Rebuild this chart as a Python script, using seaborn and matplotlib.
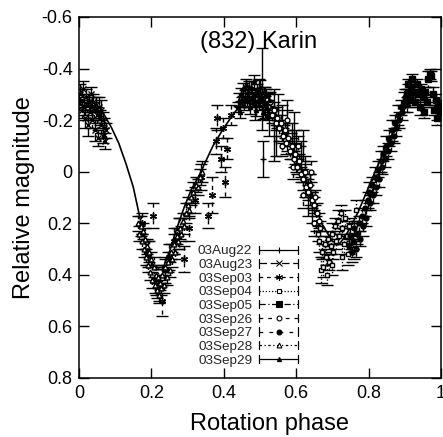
# (832) Karin composite lightcurve - plot script
import matplotlib
matplotlib.use("Agg")
import matplotlib.pyplot as plt
import seaborn as sns
from matplotlib.lines import Line2D
from matplotlib.legend_handler import HandlerBase

# Datos (fase, magnitud relativa, error)
aug22_phase = [0.470, 0.485, 0.498, 0.505, 0.508, 0.515, 0.525, 0.538, 0.545, 0.550,
               0.562, 0.575, 0.588, 0.595, 0.600, 0.612, 0.620, 0.625, 0.632, 0.638,
               0.645]
aug22_mag = [-0.30, -0.26, -0.31, -0.32, -0.05, -0.27, -0.22, -0.18, -0.12, -0.24,
             -0.19, -0.18, -0.12, -0.15, -0.08, -0.05, -0.10, 0.02, 0.10, 0.07,
             0.14]
aug22_err = [0.05, 0.06, 0.05, 0.16, 0.07, 0.06, 0.08, 0.14, 0.06, 0.06,
             0.07, 0.10, 0.07, 0.08, 0.08, 0.07, 0.06, 0.08, 0.07, 0.06,
             0.06]

aug23_phase = [0.001, 0.004, 0.007, 0.009, 0.012, 0.014, 0.017, 0.019, 0.022, 0.025,
               0.027, 0.030, 0.032, 0.035, 0.037, 0.040, 0.042, 0.045, 0.047, 0.050,
               0.052, 0.055, 0.057, 0.060, 0.062, 0.065, 0.067, 0.070, 0.072, 0.075]
aug23_mag = [-0.27, -0.30, -0.24, -0.28, -0.32, -0.25, -0.21, -0.29, -0.26, -0.18,
             -0.27, -0.23, -0.30, -0.25, -0.20, -0.27, -0.24, -0.16, -0.26, -0.22,
             -0.13, -0.25, -0.21, -0.18, -0.24, -0.14, -0.20, -0.17, -0.12, -0.16]
aug23_err = [0.03, 0.04, 0.03, 0.04, 0.03, 0.03, 0.04, 0.03, 0.03, 0.04,
             0.03, 0.03, 0.03, 0.04, 0.03, 0.03, 0.03, 0.04, 0.03, 0.03,
             0.03, 0.04, 0.03, 0.03, 0.04, 0.03, 0.03, 0.04, 0.03, 0.03]

sep03_phase = [0.175, 0.190, 0.205, 0.212, 0.222, 0.230, 0.238, 0.248, 0.262, 0.275,
               0.290, 0.305, 0.320, 0.338, 0.355, 0.368, 0.378, 0.382, 0.392, 0.397,
               0.403, 0.410, 0.420]
sep03_mag = [0.20, 0.32, 0.17, 0.42, 0.45, 0.50, 0.38, 0.33, 0.27, 0.24,
             0.34, 0.22, 0.11, 0.02, 0.17, 0.09, -0.12, -0.21, -0.05, -0.17,
             0.04, -0.09, -0.22]
sep03_err = [0.04, 0.05, 0.05, 0.06, 0.05, 0.06, 0.05, 0.05, 0.05, 0.06,
             0.05, 0.05, 0.05, 0.05, 0.05, 0.07, 0.05, 0.05, 0.05, 0.04,
             0.06, 0.04, 0.04]

sep04_phase = [0.655, 0.659, 0.663, 0.667, 0.668, 0.671, 0.675, 0.679, 0.683, 0.684,
               0.687, 0.691, 0.695, 0.699, 0.700, 0.703, 0.707, 0.711, 0.715, 0.719,
               0.723, 0.726, 0.727, 0.731, 0.735, 0.739, 0.743, 0.747, 0.751, 0.755,
               0.760, 0.765]
sep04_mag = [0.20, 0.24, 0.27, 0.22, 0.38, 0.31, 0.37, 0.28, 0.33, 0.40,
             0.26, 0.35, 0.29, 0.24, 0.36, 0.31, 0.21, 0.27, 0.19, 0.25,
             0.16, 0.33, 0.22, 0.28, 0.18, 0.25, 0.32, 0.21, 0.27, 0.23,
             0.30, 0.15]
sep04_err = [0.03, 0.03, 0.04, 0.03, 0.05, 0.03, 0.04, 0.03, 0.03, 0.04,
             0.03, 0.03, 0.03, 0.04, 0.04, 0.03, 0.03, 0.03, 0.04, 0.03,
             0.03, 0.05, 0.03, 0.04, 0.03, 0.03, 0.04, 0.03, 0.03, 0.03,
             0.04, 0.04]

sep05_phase = [0.905, 0.909, 0.913, 0.917, 0.921, 0.925, 0.929, 0.933, 0.937, 0.941,
               0.945, 0.949, 0.953, 0.957, 0.961, 0.965, 0.969, 0.973, 0.977, 0.981,
               0.985, 0.989, 0.993, 0.997]
sep05_mag = [-0.30, -0.34, -0.28, -0.33, -0.36, -0.31, -0.27, -0.34, -0.30, -0.25,
             -0.32, -0.29, -0.23, -0.31, -0.27, -0.36, -0.38, -0.37, -0.30, -0.24,
             -0.28, -0.21, -0.26, -0.23]
sep05_err = [0.02, 0.02, 0.03, 0.02, 0.02, 0.03, 0.02, 0.02, 0.02, 0.03,
             0.02, 0.02, 0.02, 0.02, 0.02, 0.03, 0.02, 0.02, 0.03, 0.02,
             0.02, 0.03, 0.02, 0.02]

sep26_phase = [0.518, 0.523, 0.528, 0.533, 0.538, 0.543, 0.548, 0.553, 0.558, 0.560,
               0.563, 0.568, 0.573, 0.575, 0.578, 0.583, 0.588, 0.590, 0.593, 0.598,
               0.603, 0.605, 0.608, 0.613, 0.618, 0.620, 0.623, 0.628, 0.633, 0.638,
               0.640, 0.643, 0.648, 0.650, 0.653, 0.658, 0.663]
sep26_mag = [-0.28, -0.25, -0.27, -0.22, -0.24, -0.19, -0.21, -0.17, -0.19, -0.10,
             -0.14, -0.16, -0.11, -0.20, -0.13, -0.08, -0.10, -0.02, -0.05, -0.07,
             -0.02, -0.10, -0.04, 0.01, 0.03, 0.09, 0.00, 0.06, 0.08, 0.05,
             0.00, 0.11, 0.13, 0.20, 0.10, 0.16, 0.19]
sep26_err = [0.03, 0.03, 0.04, 0.03, 0.03, 0.03, 0.04, 0.03, 0.03, 0.04,
             0.03, 0.03, 0.04, 0.04, 0.03, 0.03, 0.03, 0.05, 0.03, 0.04,
             0.03, 0.04, 0.03, 0.03, 0.04, 0.05, 0.03, 0.03, 0.03, 0.04,
             0.04, 0.03, 0.03, 0.05, 0.03, 0.04, 0.03]

sep27_phase = [0.745, 0.749, 0.753, 0.757, 0.761, 0.765, 0.769, 0.773, 0.777, 0.781,
               0.785, 0.789, 0.793, 0.797, 0.801, 0.805, 0.809, 0.813, 0.817, 0.821,
               0.825, 0.829, 0.833, 0.837, 0.841, 0.845, 0.849, 0.853, 0.857, 0.861,
               0.865, 0.869, 0.873, 0.877, 0.881, 0.885, 0.889, 0.893, 0.897, 0.901,
               0.905, 0.909]
sep27_mag = [0.29, 0.25, 0.31, 0.27, 0.22, 0.30, 0.24, 0.20, 0.26, 0.17,
             0.21, 0.14, 0.18, 0.11, 0.08, 0.12, 0.05, 0.09, 0.02, 0.06,
             -0.01, 0.03, -0.04, -0.02, -0.07, -0.05, -0.10, -0.08, -0.13, -0.11,
             -0.16, -0.14, -0.19, -0.17, -0.22, -0.20, -0.25, -0.23, -0.27, -0.29,
             -0.26, -0.31]
sep27_err = [0.03, 0.03, 0.04, 0.03, 0.03, 0.03, 0.04, 0.03, 0.03, 0.03,
             0.04, 0.03, 0.03, 0.03, 0.04, 0.03, 0.03, 0.03, 0.04, 0.03,
             0.03, 0.03, 0.04, 0.03, 0.03, 0.03, 0.04, 0.03, 0.03, 0.03,
             0.04, 0.03, 0.03, 0.03, 0.04, 0.03, 0.03, 0.03, 0.04, 0.03,
             0.03, 0.03]

sep28_phase = [0.162, 0.166, 0.170, 0.173, 0.176, 0.179, 0.182, 0.185, 0.188, 0.191,
               0.194, 0.197, 0.200, 0.203, 0.206, 0.209, 0.212, 0.215, 0.218, 0.221,
               0.224, 0.227, 0.230, 0.234, 0.238, 0.242, 0.246, 0.250, 0.254, 0.258,
               0.262, 0.266, 0.270, 0.274, 0.278, 0.282, 0.286, 0.290, 0.295, 0.300,
               0.305, 0.310, 0.316, 0.322, 0.328, 0.334, 0.340]
sep28_mag = [0.20, 0.24, 0.21, 0.27, 0.23, 0.30, 0.26, 0.33, 0.29, 0.36,
             0.31, 0.39, 0.34, 0.42, 0.37, 0.44, 0.40, 0.46, 0.41, 0.48,
             0.43, 0.45, 0.40, 0.44, 0.37, 0.41, 0.35, 0.38, 0.31, 0.34,
             0.28, 0.31, 0.25, 0.27, 0.22, 0.24, 0.19, 0.21, 0.16, 0.13,
             0.15, 0.10, 0.08, 0.05, 0.06, 0.02, 0.00]
sep28_err = [0.03, 0.03, 0.04, 0.03, 0.03, 0.03, 0.04, 0.03, 0.03, 0.03,
             0.04, 0.03, 0.03, 0.03, 0.04, 0.03, 0.03, 0.03, 0.04, 0.03,
             0.03, 0.03, 0.04, 0.03, 0.03, 0.03, 0.04, 0.03, 0.03, 0.03,
             0.04, 0.03, 0.03, 0.03, 0.04, 0.03, 0.03, 0.03, 0.04, 0.03,
             0.03, 0.03, 0.04, 0.03, 0.03, 0.03, 0.04]

sep29_phase = [0.438, 0.441, 0.444, 0.447, 0.450, 0.453, 0.456, 0.459, 0.462, 0.465,
               0.468, 0.471, 0.474, 0.477, 0.480, 0.483, 0.486, 0.489, 0.492, 0.495,
               0.498, 0.501, 0.504, 0.507, 0.510, 0.513, 0.516, 0.519, 0.522, 0.525]
sep29_mag = [-0.25, -0.28, -0.23, -0.30, -0.27, -0.32, -0.26, -0.29, -0.34, -0.28,
             -0.31, -0.25, -0.33, -0.29, -0.27, -0.35, -0.30, -0.24, -0.32, -0.28,
             -0.26, -0.33, -0.29, -0.23, -0.31, -0.27, -0.30, -0.25, -0.22, -0.28]
sep29_err = [0.02, 0.025, 0.02, 0.025, 0.02, 0.025, 0.02, 0.025, 0.02, 0.025,
             0.02, 0.025, 0.02, 0.025, 0.02, 0.025, 0.02, 0.025, 0.02, 0.025,
             0.02, 0.025, 0.02, 0.025, 0.02, 0.025, 0.02, 0.025, 0.02, 0.025]

# Curva ajustada
fit_phase = [0.00, 0.03, 0.05, 0.07, 0.09, 0.11, 0.13, 0.15, 0.17, 0.19,
             0.21, 0.23, 0.25, 0.27, 0.29, 0.31, 0.33, 0.35, 0.37, 0.40,
             0.43, 0.46, 0.49, 0.52, 0.55, 0.58, 0.61, 0.64, 0.67, 0.70,
             0.72, 0.74, 0.77, 0.80, 0.83, 0.86, 0.89, 0.92, 0.95, 0.98, 1.00]
fit_mag = [-0.26, -0.25, -0.24, -0.22, -0.17, -0.11, -0.03, 0.06, 0.19, 0.31,
           0.38, 0.38, 0.31, 0.22, 0.14, 0.07, 0.02, -0.04, -0.10, -0.17,
           -0.23, -0.28, -0.30, -0.28, -0.21, -0.12, -0.03, 0.08, 0.20, 0.27,
           0.28, 0.24, 0.16, 0.06, -0.04, -0.13, -0.22, -0.29, -0.31, -0.29, -0.26]

nights = ["03Aug22", "03Aug23", "03Sep03", "03Sep04", "03Sep05",
          "03Sep26", "03Sep27", "03Sep28", "03Sep29"]

sns.set_theme(style="ticks")
plt.rcParams["font.family"] = ["Liberation Sans", "DejaVu Sans"]
plt.rcParams["xtick.direction"] = "in"
plt.rcParams["ytick.direction"] = "in"

fig = plt.figure(figsize=(4.43, 4.37), dpi=100)
ax = fig.add_axes([79 / 443, 1 - 378 / 437, 362 / 443, 361 / 437])

sns.lineplot(x=fit_phase, y=fit_mag, color="black", linewidth=1.2, sort=False,
             ax=ax, zorder=1)

series = [
    (aug22_phase, aug22_mag, aug22_err, "+", "black", 5, "-"),
    (aug23_phase, aug23_mag, aug23_err, "x", "black", 4, (0, (6, 3))),
    (sep03_phase, sep03_mag, sep03_err, (6, 2, 0), "black", 5, (0, (3, 3))),
    (sep04_phase, sep04_mag, sep04_err, "s", "white", 3.5, (0, (1, 1.5))),
    (sep05_phase, sep05_mag, sep05_err, "s", "black", 4, (0, (5, 2, 1, 2))),
    (sep26_phase, sep26_mag, sep26_err, "o", "white", 3.5, (0, (3, 4))),
    (sep27_phase, sep27_mag, sep27_err, "o", "black", 3.5, (0, (3, 5))),
    (sep28_phase, sep28_mag, sep28_err, "^", "white", 3.5, (0, (2, 2, 1, 2))),
    (sep29_phase, sep29_mag, sep29_err, "^", "black", 3, "-"),
]

proxies = []
for (ph, mg, er, mk, fc, ms, ls), name in zip(series, nights):
    eb = ax.errorbar(ph, mg, yerr=er, fmt="", marker=mk, linestyle="none",
                     ms=ms, mfc=fc, mec="black", mew=1.0, color="black",
                     ecolor="black", elinewidth=1.0, capsize=4, capthick=1.0,
                     zorder=2)
    eb[2][0].set_linestyle(ls)
    proxies.append(Line2D([], [], color="black", lw=0.9, ls=ls, marker=mk,
                          ms=ms, mfc=fc, mec="black", mew=0.8))


class KeyHandler(HandlerBase):
    # muestra estilo gnuplot: linea horizontal con topes y marcador al centro
    def create_artists(self, legend, orig, xdescent, ydescent, width, height,
                       fontsize, trans):
        x0, x1 = -xdescent, -xdescent + width
        yc = -ydescent + height / 2
        line = Line2D([x0, x1], [yc, yc])
        line.update_from(orig)
        line.set_marker("None")
        left = Line2D([x0, x0], [yc - 3, yc + 3], color="black", lw=0.9)
        right = Line2D([x1, x1], [yc - 3, yc + 3], color="black", lw=0.9)
        mark = Line2D([(x0 + x1) / 2], [yc])
        mark.update_from(orig)
        mark.set_linestyle("None")
        for a in (line, left, right, mark):
            a.set_transform(trans)
        return [line, left, right, mark]


ax.legend(proxies, nights, handler_map={Line2D: KeyHandler()},
          loc="upper left", bbox_to_anchor=((198 - 79) / 362, 1 - (245 - 17) / 361),
          frameon=False, markerfirst=False, fontsize=9.7, borderpad=0,
          borderaxespad=0, labelspacing=0.09, handlelength=2.9, handletextpad=0.5)

ax.set_xlim(0, 1)
ax.set_ylim(0.8, -0.6)
ax.set_xticks([0, 0.2, 0.4, 0.6, 0.8, 1])
ax.set_xticklabels(["0", "0.2", "0.4", "0.6", "0.8", "1"])
ax.set_yticks([-0.6, -0.4, -0.2, 0, 0.2, 0.4, 0.6, 0.8])
ax.set_yticklabels(["-0.6", "-0.4", "-0.2", "0", "0.2", "0.4", "0.6", "0.8"])
ax.tick_params(axis="both", which="major", direction="in", length=7, width=1,
               labelsize=13, top=True, right=True, color="black", labelcolor="black")
ax.tick_params(axis="x", pad=5)
ax.tick_params(axis="y", pad=4.5)
for s in ax.spines.values():
    s.set_linewidth(1.1)
    s.set_color("black")

ax.set_xlabel("Rotation phase", fontsize=17, color="black")
ax.set_ylabel("Relative magnitude", fontsize=17, color="black", labelpad=5)
ax.xaxis.set_label_coords((269 - 79) / 362, -0.098)
ax.text(0.497, 0.931, "(832) Karin", transform=ax.transAxes, fontsize=17,
        ha="center", va="center", color="black")

fig.savefig("out.png", dpi=100)
